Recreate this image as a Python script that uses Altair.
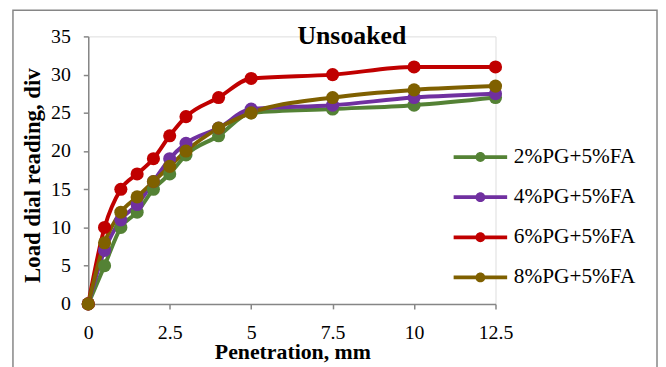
import altair as alt
import pandas as pd

# ---- data ----
penetration = [0, 0.5, 1, 1.5, 2, 2.5, 3, 4, 5, 7.5, 10, 12.5]
series_names = ["2%PG+5%FA", "4%PG+5%FA", "6%PG+5%FA", "8%PG+5%FA"]
pg2 = [0, 5, 10, 12, 15, 17, 19.5, 22, 25, 25.5, 26, 27]
pg4 = [0, 7, 11, 13, 16, 19, 21, 23, 25.5, 26, 27, 27.5]
pg6 = [0, 10, 15, 17, 19, 22, 24.5, 27, 29.5, 30, 31, 31]
pg8 = [0, 8, 12, 14, 16, 18, 20, 23, 25, 27, 28, 28.5]
series_colors = ["#548235", "#7030A0", "#C00000", "#7F6000"]
x_ticks = [0, 2.5, 5, 7.5, 10, 12.5]
y_ticks = [0, 5, 10, 15, 20, 25, 30, 35]
chart_title = "Unsoaked"
x_title = "Penetration, mm"
y_title = "Load dial reading, div"

rows = []
for k, (name, vals) in enumerate(zip(series_names, [pg2, pg4, pg6, pg8])):
    for x, y in zip(penetration, vals):
        rows.append({"series": name, "pen": x, "load": y, "k": k})
df = pd.DataFrame(rows)

FONT = "Liberation Serif"
GRAY = "#868686"

x_enc = alt.X(
    "pen:Q",
    scale=alt.Scale(domain=[0, 12.5], nice=False, zero=False),
    axis=alt.Axis(
        values=x_ticks, format=".1~f", grid=False, labelFlush=False, labelOverlap=False,
        labelFont=FONT, labelFontSize=20, labelColor="black", labelPadding=14,
        tickSize=5, tickColor=GRAY, tickWidth=1.5, domainColor=GRAY, domainWidth=1.5,
        title=x_title, titleFont=FONT, titleFontSize=22, titleFontWeight="bold",
        titleColor="black", titleBaseline="alphabetic", titleY=55, titleX=206,
        titleAlign="center",
    ),
)
y_enc = alt.Y(
    "load:Q",
    scale=alt.Scale(domain=[0, 35], nice=False),
    axis=alt.Axis(
        values=y_ticks, format="~g", grid=False, labelFlush=False, labelOverlap=False,
        labelFont=FONT, labelFontSize=20, labelColor="black", labelPadding=13,
        tickSize=5, tickColor=GRAY, tickWidth=1.5, domainColor=GRAY, domainWidth=1.5,
        title=y_title, titleFont=FONT, titleFontSize=23, titleFontWeight="bold",
        titleColor="black", titleAngle=-90, titleX=-56, titleY=140,
        titleAlign="center", titleBaseline="middle",
    ),
)

legend_symbol = ("M-2.7,-0.19H2.7V0.19H-2.7Z "
                 "M0.5,0A0.5,0.5 0 1,1 -0.5,0A0.5,0.5 0 1,1 0.5,0Z")

legend = alt.Legend(
    orient="none", legendX=385, legendY=111, title=None,
    symbolType=legend_symbol, symbolSize=400, symbolStrokeWidth=0,
    symbolOpacity=1, labelFont=FONT, labelFontSize=21.5, labelColor="black",
    labelOffset=23, rowPadding=17.5, padding=0, labelLimit=300,
)
color_enc = alt.Color(
    "series:N",
    scale=alt.Scale(domain=series_names, range=series_colors),
    legend=legend,
)

base = alt.Chart(df)

lines = base.mark_line(strokeWidth=4, interpolate="monotone").encode(
    x=x_enc, y=y_enc, color=color_enc, detail="series:N",
)

points = base.mark_point(filled=True, opacity=1, size=175).encode(
    x=x_enc, y=y_enc, color=color_enc, order="k:Q",
)

title_df = pd.DataFrame({"t": [chart_title]})
title_mark = alt.Chart(title_df).mark_text(
    font=FONT, fontSize=26, fontWeight="bold", color="black",
    align="center", baseline="alphabetic",
).encode(text="t:N", x=alt.value(266), y=alt.value(8))

border = alt.Chart(pd.DataFrame({"b": [0]})).mark_rect(
    fill="transparent", stroke=GRAY, strokeWidth=1.5,
).encode(x=alt.value(-76), x2=alt.value(574), y=alt.value(-26.5), y2=alt.value(360))

chart = alt.layer(border, lines, points, title_mark).properties(
    width=411, height=270,
    autosize=alt.AutoSizeParams(type="none"),
    padding={"left": 81, "top": 27, "right": 164, "bottom": 62},
).configure_view(stroke=None).configure(background="white")

chart.save("out.html", embed_options={"renderer": "svg", "actions": False})
